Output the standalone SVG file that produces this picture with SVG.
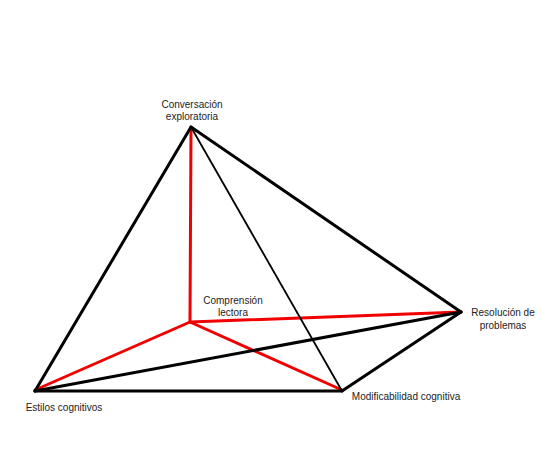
<svg xmlns="http://www.w3.org/2000/svg" width="542" height="464" viewBox="0 0 542 464">
<style>
.blk{stroke:#000;stroke-width:3;stroke-linecap:round;fill:none}
.thin{stroke:#000;stroke-width:1.8;fill:none}
.red{stroke:#f20000;stroke-width:3;stroke-linecap:round;fill:none}
.lbl{font-family:"Liberation Sans",Arial,sans-serif;font-size:10px;fill:#222;text-anchor:middle}
</style>
<rect width="542" height="464" fill="#fff"/>
<g id="connectors">
<line class="red" x1="191" y1="128" x2="190" y2="322"/>
<line class="red" x1="190" y1="322" x2="35" y2="390"/>
<line class="red" x1="190" y1="322" x2="342" y2="390"/>
<line class="red" x1="190" y1="322" x2="461" y2="312"/>
<line class="blk" x1="191" y1="127" x2="35" y2="391"/>
<line class="thin" x1="191" y1="127" x2="342" y2="391"/>
<line class="blk" x1="191" y1="127" x2="461" y2="312"/>
<line class="blk" x1="35" y1="391" x2="342" y2="391"/>
<line class="blk" x1="342" y1="391" x2="461" y2="312"/>
<line class="blk" x1="35" y1="391" x2="461" y2="312"/>
</g>
<g id="node-conversacion">
<text class="lbl" x="192" y="108">Conversación</text>
<text class="lbl" x="192" y="120">exploratoria</text>
</g>
<g id="node-comprension">
<text class="lbl" x="233" y="304">Comprensión</text>
<text class="lbl" x="233" y="316">lectora</text>
</g>
<g id="node-resolucion">
<text class="lbl" x="503" y="316">Resolución de</text>
<text class="lbl" x="503" y="329">problemas</text>
</g>
<g id="node-estilos">
<text class="lbl" x="64" y="411">Estilos cognitivos</text>
</g>
<g id="node-modificabilidad">
<text class="lbl" x="406" y="400">Modificabilidad cognitiva</text>
</g>
</svg>
